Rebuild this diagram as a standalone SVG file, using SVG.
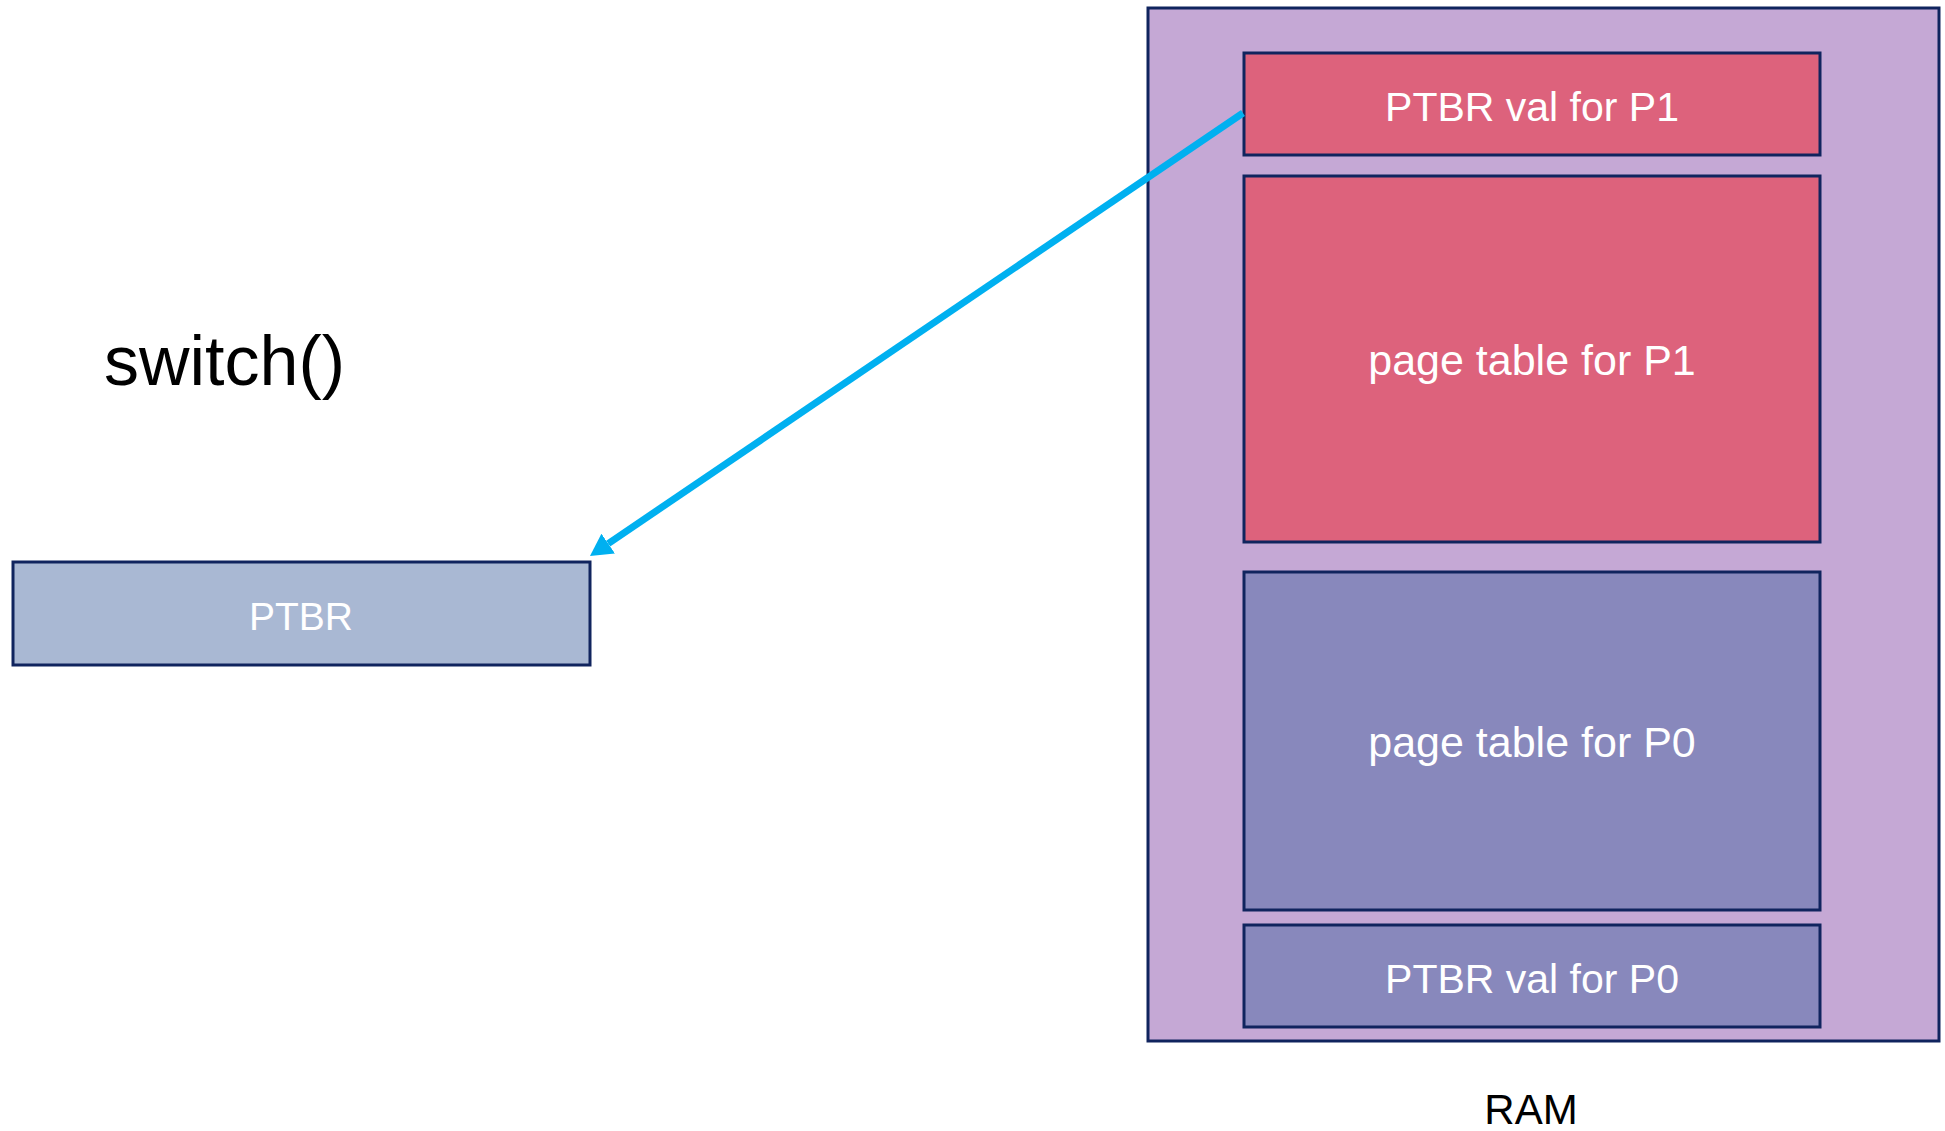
<svg xmlns="http://www.w3.org/2000/svg" width="1945" height="1131" viewBox="0 0 1945 1131">
  <style>
    .box { stroke: #10245E; stroke-width: 3; }
    .lbl { font-family: "Liberation Sans", Arial, sans-serif; fill: #FFFFFF; text-anchor: middle; }
    .blk { font-family: "Liberation Sans", Arial, sans-serif; fill: #000000; }
  </style>
  <defs>
    <marker id="arrowhead" markerUnits="userSpaceOnUse" viewBox="0 0 22 24" refX="0" refY="12" markerWidth="22" markerHeight="24" orient="auto">
      <path d="M0,0 L22,12 L0,24 Z" fill="#00B0F0"/>
    </marker>
  </defs>
  <rect width="1945" height="1131" fill="#FFFFFF"/>

  <g id="switch-label">
    <text class="blk" x="104" y="385" font-size="70">switch()</text>
  </g>

  <g id="ptbr">
    <rect class="box" x="13" y="562" width="577" height="103" fill="#A9B8D3"/>
    <text class="lbl" x="301" y="630" font-size="39">PTBR</text>
  </g>

  <g id="ram">
    <rect class="box" x="1148" y="8" width="791" height="1033" fill="#C5A8D5"/>
    <text class="blk" x="1531" y="1124" font-size="42" text-anchor="middle">RAM</text>
  </g>

  <g id="ptbr-val-p1">
    <rect class="box" x="1244" y="53" width="576" height="102" fill="#DD627C"/>
    <text class="lbl" x="1532" y="121" font-size="41">PTBR val for P1</text>
  </g>

  <g id="page-table-p1">
    <rect class="box" x="1244" y="176" width="576" height="366" fill="#DD627C"/>
    <text class="lbl" x="1532" y="375" font-size="43">page table for P1</text>
  </g>

  <g id="page-table-p0">
    <rect class="box" x="1244" y="572" width="576" height="338" fill="#8888BC"/>
    <text class="lbl" x="1532" y="757" font-size="43">page table for P0</text>
  </g>

  <g id="ptbr-val-p0">
    <rect class="box" x="1244" y="925" width="576" height="102" fill="#8888BC"/>
    <text class="lbl" x="1532" y="993" font-size="41">PTBR val for P0</text>
  </g>

  <g id="connectors">
    <line x1="1243" y1="113" x2="608.2" y2="543.6" stroke="#00B0F0" stroke-width="7" marker-end="url(#arrowhead)"/>
  </g>
</svg>
